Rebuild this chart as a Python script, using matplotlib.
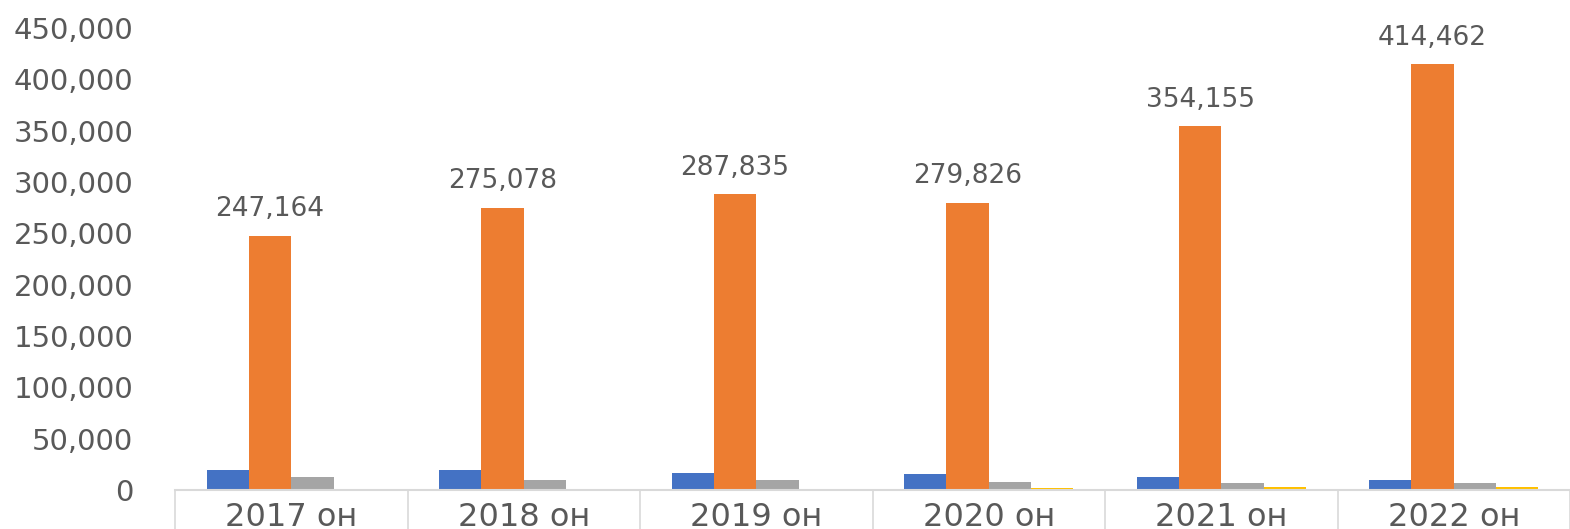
import numpy as np
import matplotlib.pyplot as plt
from matplotlib.ticker import FuncFormatter

# Өгөгдөл
years = ['2017 он', '2018 он', '2019 он', '2020 он', '2021 он', '2022 он']
series1 = [19100, 19100, 16200, 15200, 12300, 9400]          # цэнхэр
series2 = [247164, 275078, 287835, 279826, 354155, 414462]   # улбар шар
series3 = [13000, 9400, 9400, 7500, 7300, 6800]              # саарал
series4 = [500, 0, 1000, 1500, 3000, 3000]                   # шар

colors = ['#4472C4', '#ED7D31', '#A5A5A5', '#FFC000']
text_color = '#595959'
line_color = '#D9D9D9'

plt.rcParams['font.family'] = ['DejaVu Sans']

fig = plt.figure(figsize=(15.7, 5.29), dpi=100)
ax = fig.add_axes([175 / 1570, 39 / 529, (1570 - 175) / 1570, (490 - 28) / 529])

x = np.arange(len(years))
w = 1 / 5.5
all_series = [series1, series2, series3, series4]
bars = []
for i, (vals, c) in enumerate(zip(all_series, colors)):
    b = ax.bar(x + (i - 1.5) * w, vals, width=w, color=c, linewidth=0)
    bars.append(b)

ax.bar_label(bars[1], labels=[f'{v:,}' for v in series2], padding=10,
             fontsize=19, color=text_color)

ax.set_ylim(0, 450000)
ax.set_xlim(-0.5, 5.46)
ax.set_yticks(np.arange(0, 450001, 50000))
ax.yaxis.set_major_formatter(FuncFormatter(lambda v, p: f'{int(v):,}'))

ax.set_xticks(x)
ax.set_xticklabels(years)
ax.set_xticks(np.arange(-0.5, 6, 1), minor=True)
ax.tick_params(axis='x', which='major', length=0, pad=9, labelsize=23,
               labelcolor=text_color)
ax.tick_params(axis='x', which='minor', length=40, width=1.2,
               color=line_color, direction='out')
ax.tick_params(axis='y', length=0, pad=30, labelsize=21, labelcolor=text_color)

for s in ['top', 'right', 'left']:
    ax.spines[s].set_visible(False)
ax.spines['bottom'].set_color(line_color)
ax.spines['bottom'].set_linewidth(1.5)

fig.savefig('out.png', dpi=100)
